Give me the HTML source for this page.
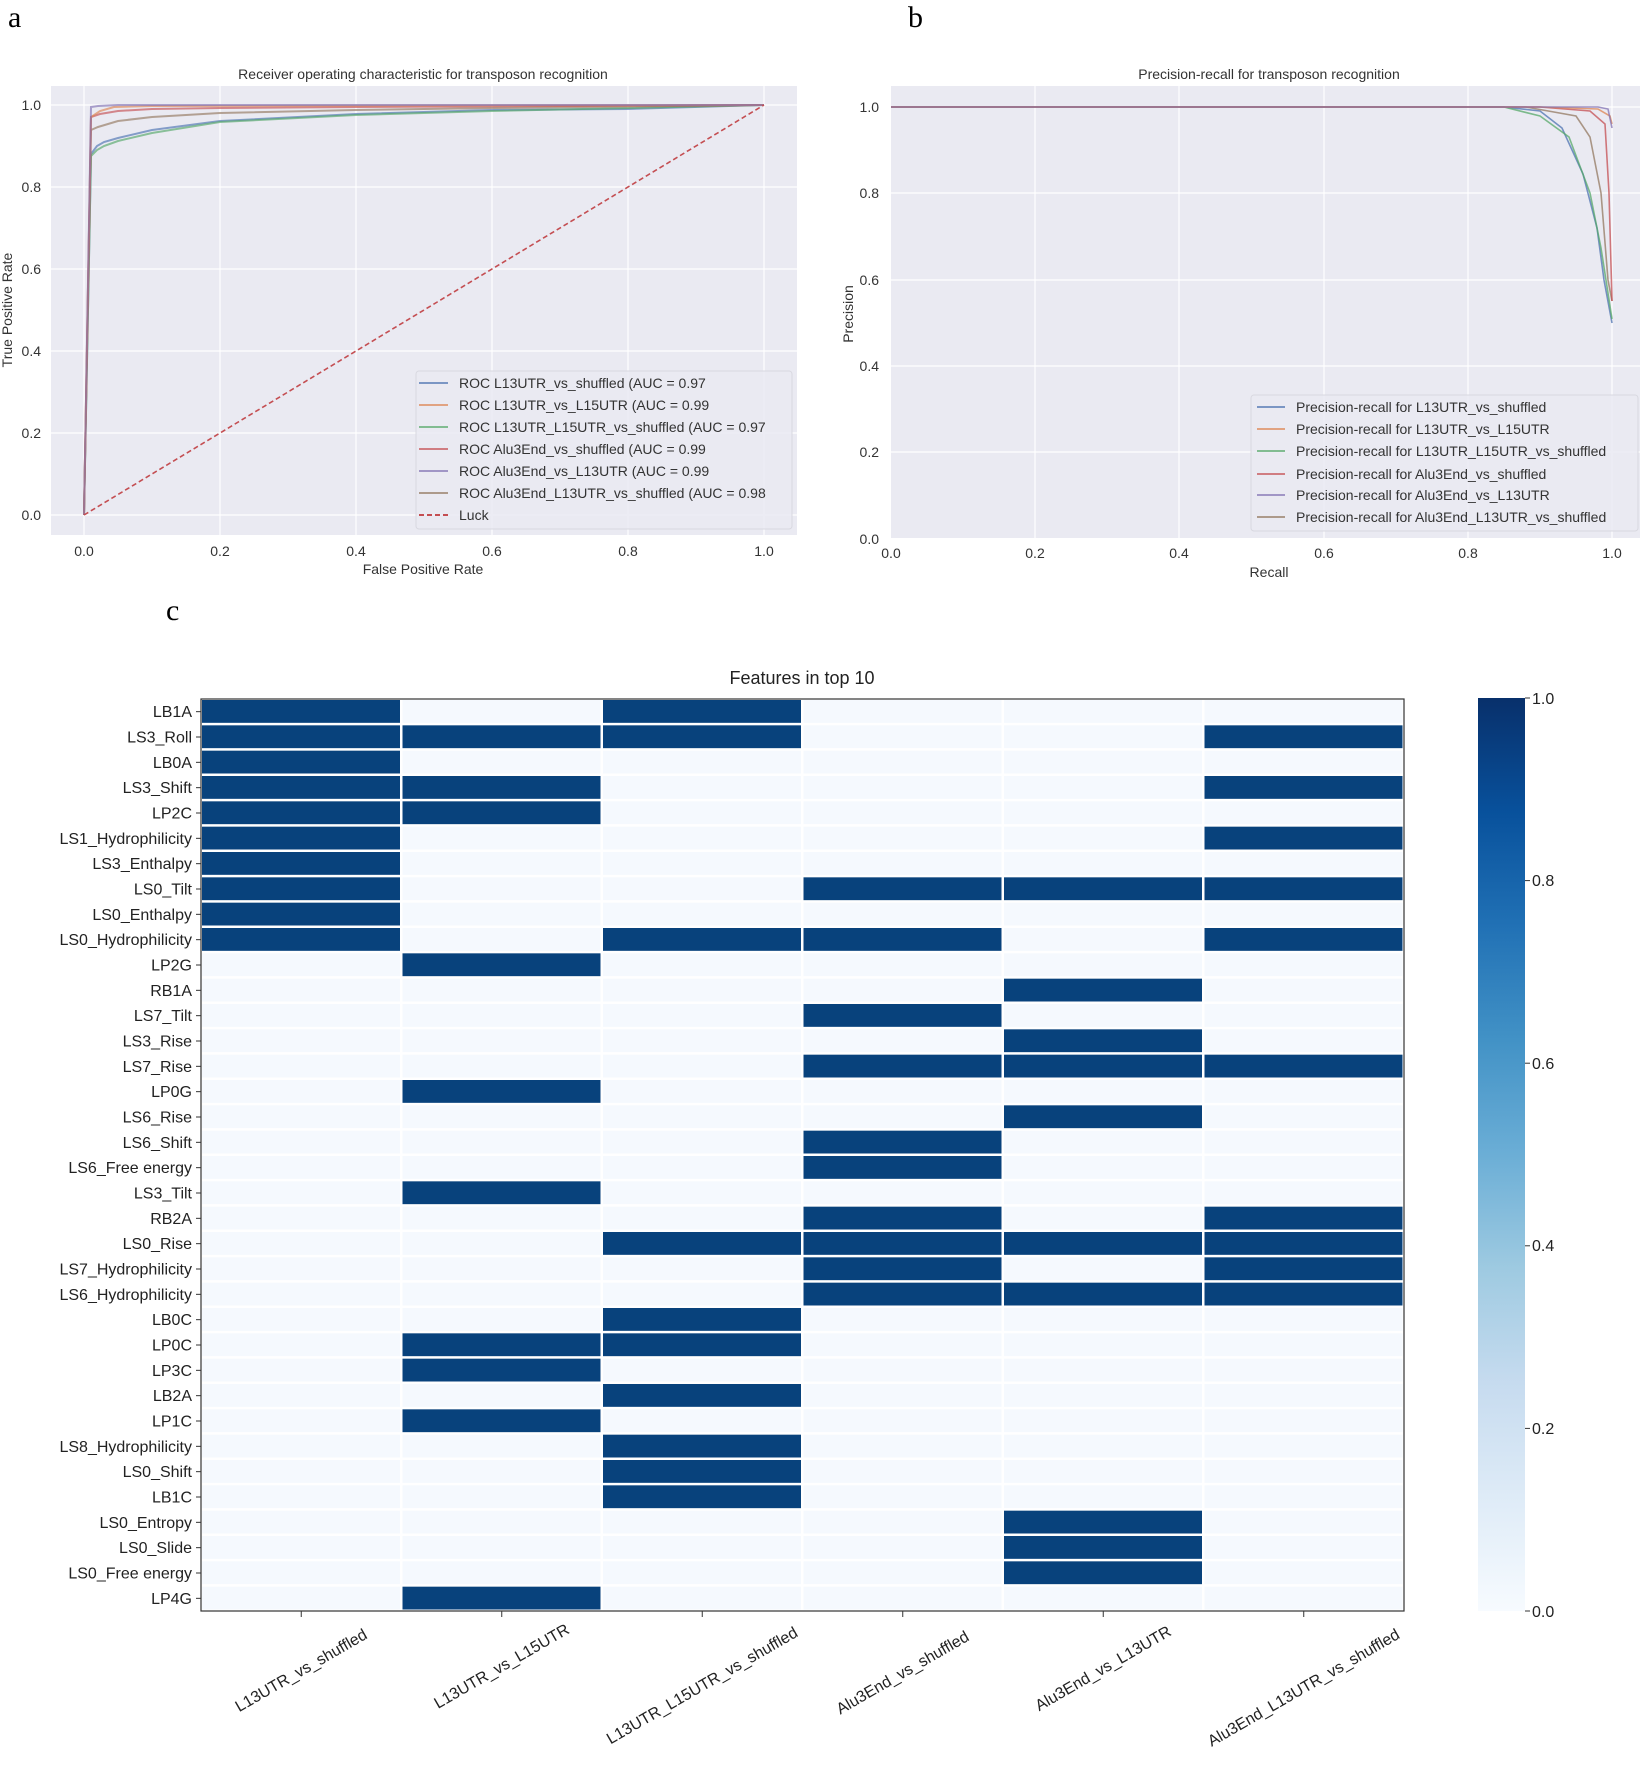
<!DOCTYPE html>
<html><head><meta charset="utf-8"><style>
html,body{margin:0;padding:0;background:#fff}
svg{display:block;font-family:"Liberation Sans","DejaVu Sans",sans-serif}
</style></head><body>
<svg width="1640" height="1765" viewBox="0 0 1640 1765" xmlns="http://www.w3.org/2000/svg">
<defs>
<linearGradient id="cb" x1="0" y1="1" x2="0" y2="0">
<stop offset="0" stop-color="#f7fbff"/><stop offset="0.125" stop-color="#deebf7"/>
<stop offset="0.25" stop-color="#c6dbef"/><stop offset="0.375" stop-color="#9ecae1"/>
<stop offset="0.5" stop-color="#6baed6"/><stop offset="0.625" stop-color="#4292c6"/>
<stop offset="0.75" stop-color="#2171b5"/><stop offset="0.875" stop-color="#08519c"/>
<stop offset="1" stop-color="#08306b"/></linearGradient>
</defs>
<!-- panel letters -->
<text x="8" y="27" font-family="Liberation Serif,serif" font-size="30">a</text>
<text x="908" y="27" font-family="Liberation Serif,serif" font-size="30">b</text>
<text x="166" y="620" font-family="Liberation Serif,serif" font-size="30">c</text>

<!-- Panel a -->
<text x="423" y="79" font-size="14" text-anchor="middle" fill="#333">Receiver operating characteristic for transposon recognition</text>
<rect x="51" y="86" width="746" height="449" fill="#eaeaf2"/>
<g stroke="#fff" stroke-width="1.2">
<line x1="84" y1="86" x2="84" y2="535"/><line x1="220" y1="86" x2="220" y2="535"/><line x1="356" y1="86" x2="356" y2="535"/><line x1="492" y1="86" x2="492" y2="535"/><line x1="628" y1="86" x2="628" y2="535"/><line x1="764" y1="86" x2="764" y2="535"/>
<line x1="51" y1="515" x2="797" y2="515"/><line x1="51" y1="433" x2="797" y2="433"/><line x1="51" y1="351" x2="797" y2="351"/><line x1="51" y1="269" x2="797" y2="269"/><line x1="51" y1="187" x2="797" y2="187"/><line x1="51" y1="105" x2="797" y2="105"/>
</g>
<g font-size="14" fill="#333" text-anchor="end">
<text x="41" y="520">0.0</text><text x="41" y="438">0.2</text><text x="41" y="356">0.4</text><text x="41" y="274">0.6</text><text x="41" y="192">0.8</text><text x="41" y="110">1.0</text>
</g>
<g font-size="14" fill="#333" text-anchor="middle">
<text x="84" y="556">0.0</text><text x="220" y="556">0.2</text><text x="356" y="556">0.4</text><text x="492" y="556">0.6</text><text x="628" y="556">0.8</text><text x="764" y="556">1.0</text>
<text x="423" y="574">False Positive Rate</text>
</g>
<text transform="translate(12,310) rotate(-90)" font-size="14" fill="#333" text-anchor="middle">True Positive Rate</text>
<g fill="none" stroke-width="2" stroke-opacity="0.65">
<polyline stroke="#4c72b0" points="84,515 91,154 97,146 104,142 118,138 152,130 220,121 356,114 492,110 628,109 764,105"/>
<polyline stroke="#55a868" points="84,515 91,156 97,150 104,146 118,141 152,133 220,122 356,115 492,111 628,108 764,105"/>
<polyline stroke="#937860" points="84,515 91,130 98,127 118,121 152,117 220,113 356,110 492,108 764,105"/>
<polyline stroke="#c44e52" points="84,515 91,117 100,114 118,111 152,109 220,108 356,107 764,105"/>
<polyline stroke="#dd8452" points="84,515 91,117 100,111 114,107 152,106 764,105"/>
<polyline stroke="#8172b3" points="84,515 91,107 98,106 118,105 764,105"/>
</g>
<line x1="84" y1="515" x2="764" y2="105" stroke="#c44e52" stroke-width="1.6" stroke-dasharray="5,3"/>
<rect x="416" y="371" width="376" height="158" rx="3" fill="#eaeaf2" fill-opacity="0.85" stroke="#d8d8e0"/>
<g stroke-width="2" stroke-opacity="0.7">
<line x1="419" y1="383" x2="448" y2="383" stroke="#4c72b0"/>
<line x1="419" y1="405" x2="448" y2="405" stroke="#dd8452"/>
<line x1="419" y1="427" x2="448" y2="427" stroke="#55a868"/>
<line x1="419" y1="449" x2="448" y2="449" stroke="#c44e52"/>
<line x1="419" y1="471" x2="448" y2="471" stroke="#8172b3"/>
<line x1="419" y1="493" x2="448" y2="493" stroke="#937860"/>
<line x1="419" y1="515" x2="448" y2="515" stroke="#c44e52" stroke-dasharray="5,3" stroke-opacity="1"/>
</g>
<g font-size="14" fill="#333">
<text x="459" y="388">ROC L13UTR_vs_shuffled (AUC = 0.97</text>
<text x="459" y="410">ROC L13UTR_vs_L15UTR (AUC = 0.99</text>
<text x="459" y="432">ROC L13UTR_L15UTR_vs_shuffled (AUC = 0.97</text>
<text x="459" y="454">ROC Alu3End_vs_shuffled (AUC = 0.99</text>
<text x="459" y="476">ROC Alu3End_vs_L13UTR (AUC = 0.99</text>
<text x="459" y="498">ROC Alu3End_L13UTR_vs_shuffled (AUC = 0.98</text>
<text x="459" y="520">Luck</text>
</g>

<!-- Panel b -->
<text x="1269" y="79" font-size="14" text-anchor="middle" fill="#333">Precision-recall for transposon recognition</text>
<rect x="891" y="86" width="749" height="452" fill="#eaeaf2"/>
<g stroke="#fff" stroke-width="1.2">
<line x1="1035" y1="86" x2="1035" y2="538"/><line x1="1179" y1="86" x2="1179" y2="538"/><line x1="1324" y1="86" x2="1324" y2="538"/><line x1="1468" y1="86" x2="1468" y2="538"/><line x1="1612" y1="86" x2="1612" y2="538"/>
<line x1="891" y1="452" x2="1640" y2="452"/><line x1="891" y1="366" x2="1640" y2="366"/><line x1="891" y1="280" x2="1640" y2="280"/><line x1="891" y1="193" x2="1640" y2="193"/><line x1="891" y1="107" x2="1640" y2="107"/>
</g>
<g font-size="14" fill="#333" text-anchor="end">
<text x="879" y="544">0.0</text><text x="879" y="457">0.2</text><text x="879" y="371">0.4</text><text x="879" y="285">0.6</text><text x="879" y="198">0.8</text><text x="879" y="112">1.0</text>
</g>
<g font-size="14" fill="#333" text-anchor="middle">
<text x="891" y="558">0.0</text><text x="1035" y="558">0.2</text><text x="1179" y="558">0.4</text><text x="1324" y="558">0.6</text><text x="1468" y="558">0.8</text><text x="1612" y="558">1.0</text>
<text x="1269" y="577">Recall</text>
</g>
<text transform="translate(853,314) rotate(-90)" font-size="14" fill="#333" text-anchor="middle">Precision</text>
<g fill="none" stroke-width="1.6" stroke-opacity="0.75">
<polyline stroke="#4c72b0" points="891,107 1504,107 1540,111 1562,128 1583,174 1597,228 1604,280 1612,323"/>
<polyline stroke="#55a868" points="891,107 1504,107 1540,116 1569,137 1590,193 1601,248 1612,319"/>
<polyline stroke="#937860" points="891,107 1526,107 1576,116 1590,137 1601,193 1608,280 1612,301"/>
<polyline stroke="#c44e52" points="891,107 1540,107 1590,111 1605,124 1609,193 1612,301"/>
<polyline stroke="#dd8452" points="891,107 1540,107 1598,109 1610,116 1612,124"/>
<polyline stroke="#8172b3" points="891,107 1598,107 1608,109 1612,128"/>
</g>
<rect x="1251" y="395" width="387" height="136" rx="3" fill="#eaeaf2" fill-opacity="0.85" stroke="#d8d8e0"/>
<g stroke-width="2" stroke-opacity="0.7">
<line x1="1257" y1="407" x2="1285" y2="407" stroke="#4c72b0"/>
<line x1="1257" y1="429" x2="1285" y2="429" stroke="#dd8452"/>
<line x1="1257" y1="451" x2="1285" y2="451" stroke="#55a868"/>
<line x1="1257" y1="474" x2="1285" y2="474" stroke="#c44e52"/>
<line x1="1257" y1="495" x2="1285" y2="495" stroke="#8172b3"/>
<line x1="1257" y1="517" x2="1285" y2="517" stroke="#937860"/>
</g>
<g font-size="14" fill="#333">
<text x="1296" y="412">Precision-recall for L13UTR_vs_shuffled</text>
<text x="1296" y="434">Precision-recall for L13UTR_vs_L15UTR</text>
<text x="1296" y="456">Precision-recall for L13UTR_L15UTR_vs_shuffled</text>
<text x="1296" y="479">Precision-recall for Alu3End_vs_shuffled</text>
<text x="1296" y="500">Precision-recall for Alu3End_vs_L13UTR</text>
<text x="1296" y="522">Precision-recall for Alu3End_L13UTR_vs_shuffled</text>
</g>

<!-- Panel c heatmap -->
<text x="802" y="684" font-size="18" text-anchor="middle" fill="#222">Features in top 10</text>
<g id="hm"></g>
<rect x="201" y="699" width="1203" height="912" fill="none" stroke="#333" stroke-width="1.2"/>
<rect x="1478" y="698" width="47" height="913" fill="url(#cb)"/>
<g stroke="#333" stroke-width="1"><line x1="1525" y1="698" x2="1530" y2="698"/><line x1="1525" y1="880.6" x2="1530" y2="880.6"/><line x1="1525" y1="1063.2" x2="1530" y2="1063.2"/><line x1="1525" y1="1245.8" x2="1530" y2="1245.8"/><line x1="1525" y1="1428.4" x2="1530" y2="1428.4"/><line x1="1525" y1="1611" x2="1530" y2="1611"/></g>
<g font-size="16" fill="#222">
<text x="1532" y="704">1.0</text><text x="1532" y="886">0.8</text><text x="1532" y="1069">0.6</text><text x="1532" y="1251">0.4</text><text x="1532" y="1434">0.2</text><text x="1532" y="1617">0.0</text>
</g>
<g id="rl" font-size="16" fill="#222" text-anchor="end"></g>
<g id="xl" font-size="16" fill="#222" text-anchor="middle"></g>
</svg>
<script>
var rows=[["LB1A",[0,2]],["LS3_Roll",[0,1,2,5]],["LB0A",[0]],["LS3_Shift",[0,1,5]],["LP2C",[0,1]],["LS1_Hydrophilicity",[0,5]],["LS3_Enthalpy",[0]],["LS0_Tilt",[0,3,4,5]],["LS0_Enthalpy",[0]],["LS0_Hydrophilicity",[0,2,3,5]],["LP2G",[1]],["RB1A",[4]],["LS7_Tilt",[3]],["LS3_Rise",[4]],["LS7_Rise",[3,4,5]],["LP0G",[1]],["LS6_Rise",[4]],["LS6_Shift",[3]],["LS6_Free energy",[3]],["LS3_Tilt",[1]],["RB2A",[3,5]],["LS0_Rise",[2,3,4,5]],["LS7_Hydrophilicity",[3,5]],["LS6_Hydrophilicity",[3,4,5]],["LB0C",[2]],["LP0C",[1,2]],["LP3C",[1]],["LB2A",[2]],["LP1C",[1]],["LS8_Hydrophilicity",[2]],["LS0_Shift",[2]],["LB1C",[2]],["LS0_Entropy",[4]],["LS0_Slide",[4]],["LS0_Free energy",[4]],["LP4G",[1]]];
var cols=["L13UTR_vs_shuffled","L13UTR_vs_L15UTR","L13UTR_L15UTR_vs_shuffled","Alu3End_vs_shuffled","Alu3End_vs_L13UTR","Alu3End_L13UTR_vs_shuffled"];
var NS="http://www.w3.org/2000/svg",hm=document.getElementById("hm"),rl=document.getElementById("rl"),xl=document.getElementById("xl");
var x0=201,y0=699,cw=1203/6,rh=912/36;
function el(t,a,p){var e=document.createElementNS(NS,t);for(var k in a)e.setAttribute(k,a[k]);p.appendChild(e);return e;}
el("rect",{x:x0,y:y0,width:1203,height:912,fill:"#fff"},hm);
rows.forEach(function(r,i){
 for(var j=0;j<6;j++){var on=r[1].indexOf(j)>=0;
  el("rect",{x:x0+j*cw+1,y:y0+i*rh+1,width:cw-2.5,height:rh-2.5,fill:on?"#08427c":"#f5f9fe"},hm);}
 var yc=y0+(i+0.5)*rh;
 el("line",{x1:196,y1:yc,x2:201,y2:yc,stroke:"#333"},hm);
 var t=el("text",{x:192,y:yc+5.5},rl);t.textContent=r[0];
});
cols.forEach(function(c,j){
 var xc=x0+(j+0.5)*cw;
 el("line",{x1:xc,y1:1611,x2:xc,y2:1617,stroke:"#333"},hm);
 var w=c.length*8.6,yc=1624+(w*0.5+16)/2;
 var t=el("text",{x:xc,y:yc+5,transform:"rotate(-30 "+xc+" "+yc+")"},xl);t.textContent=c;
});
</script>
</body></html>
